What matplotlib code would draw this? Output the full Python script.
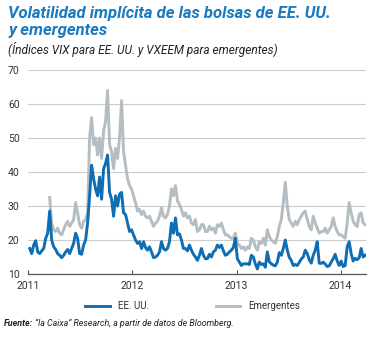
import numpy as np
import pandas as pd
import matplotlib
matplotlib.use("Agg")
import matplotlib.pyplot as plt

# weekly values (Fridays)
vix_2011 = [17.5, 16.0, 18.5, 19.8,
            16.5, 16.0, 16.8, 17.5,
            20.5, 22.0, 28.5, 20.0,
            18.0, 17.2, 16.0, 15.5, 14.8,
            15.5, 16.5, 17.2, 16.0,
            17.5, 19.0, 22.0, 20.5,
            16.0, 15.8, 18.5, 20.0, 25.0,
            33.0, 42.0, 38.0, 35.0,
            33.0, 38.5, 32.0, 41.0, 42.5,
            45.0, 34.0, 32.0, 27.0,
            33.0, 30.0, 33.5, 34.0,
            28.0, 27.5, 25.0, 22.5, 23.0]
vix_2012 = [21.5, 20.0, 19.0, 19.5,
            17.5, 19.5, 17.8, 17.0,
            18.0, 16.5, 14.8, 15.0, 15.5,
            16.5, 19.5, 17.5, 17.0,
            17.5, 19.5, 25.0, 22.0,
            26.5, 21.5, 21.8, 20.0, 17.5,
            17.5, 16.8, 18.5, 17.0,
            15.8, 15.0, 14.0, 15.5, 17.5,
            15.5, 14.5, 14.5, 15.8,
            15.0, 16.5, 17.0, 18.5,
            17.8, 18.5, 16.8, 15.5, 15.8,
            16.5, 17.0, 17.8, 20.5]
vix_2013 = [14.5, 13.5, 12.5, 13.0,
            13.0, 13.0, 12.8, 15.5,
            15.0, 13.0, 11.5, 13.5, 12.8,
            13.0, 12.0, 16.5, 13.6,
            13.0, 12.6, 12.4, 13.5, 16.3,
            15.5, 17.5, 20.0, 17.0,
            14.9, 14.0, 12.5, 12.8,
            12.5, 13.4, 14.4, 15.0, 17.0,
            16.0, 14.2, 13.2, 15.5,
            17.0, 19.5, 13.2, 13.1,
            13.5, 12.9, 12.2, 12.4, 13.5,
            14.5, 15.8, 13.8, 12.5]
vix_2014 = [13.8, 12.2, 12.5, 18.0, 19.5, 16.0, 13.8, 14.6, 14.2, 14.8, 17.5, 15.0, 15.5]

# VXEEM starts in March 2011
vxeem_2011 = [np.nan] * 10 + [32.5, 25.0,
              23.0, 22.5, 23.5, 22.0, 21.5,
              23.0, 24.5, 25.5, 24.0,
              25.0, 26.0, 31.0, 28.0,
              24.5, 23.5, 25.5, 26.0, 28.0,
              50.0, 56.0, 48.0, 50.0,
              45.0, 50.0, 44.0, 52.0, 55.0,
              64.0, 48.0, 46.0, 41.0,
              47.0, 44.0, 50.0, 61.0,
              46.0, 42.0, 38.0, 36.0, 35.0]
vxeem_2012 = [33.0, 31.0, 28.5, 29.0,
              27.5, 28.5, 27.0, 26.5,
              27.0, 25.5, 24.0, 25.0, 25.5,
              27.0, 29.5, 27.0, 26.5,
              27.5, 30.0, 35.0, 33.0,
              36.0, 31.5, 30.5, 29.0, 27.0,
              28.0, 26.5, 27.0, 25.0,
              24.5, 26.0, 22.5, 23.0, 24.5,
              24.5, 22.5, 22.5, 24.0,
              23.0, 23.5, 22.0, 24.5,
              24.0, 25.0, 23.0, 21.5, 21.5,
              21.0, 20.5, 20.5, 22.0]
vxeem_2013 = [19.0, 18.5, 17.5, 18.0,
              17.0, 18.0, 17.5, 20.5,
              20.0, 18.0, 17.0, 19.5, 19.0,
              20.5, 18.5, 23.0, 21.0,
              20.0, 19.5, 19.0, 21.0, 24.0,
              26.0, 31.0, 37.0, 30.0,
              26.0, 25.0, 24.0, 25.5,
              24.5, 26.0, 27.0, 28.0, 28.5,
              26.0, 24.0, 23.0, 27.0,
              25.0, 23.5, 22.0, 22.5,
              22.5, 23.5, 22.0, 23.0, 24.0,
              26.5, 24.0, 22.5, 21.5]
vxeem_2014 = [21.5, 21.0, 20.5, 25.0, 31.0, 28.0, 25.5, 24.5, 24.0, 27.5, 28.0, 25.0, 24.5]

vix = vix_2011 + vix_2012 + vix_2013 + vix_2014
vxeem = vxeem_2011 + vxeem_2012 + vxeem_2013 + vxeem_2014
dates = pd.date_range("2011-01-07", periods=len(vix), freq="W-FRI")

years = ["2011", "2012", "2013", "2014"]
yticks = [10, 20, 30, 40, 50, 60, 70]

BLUE = "#0f6db3"
GREY = "#b4bdc2"
TXT = "#333333"
plt.rcParams["font.family"] = ["Liberation Sans Narrow", "Roboto", "DejaVu Sans"]

fig = plt.figure(figsize=(3.88, 3.38), dpi=100)
ax = fig.add_axes([28 / 388, 1 - 274 / 338, 338 / 388, 204 / 338])

ax.plot(dates, vxeem, color=GREY, lw=2.1, label="Emergentes", zorder=2)
ax.plot(dates, vix, color=BLUE, lw=2.1, label="EE. UU.", zorder=3)

ax.set_ylim(10, 70)
ax.set_yticks(yticks)
ax.set_xlim(pd.Timestamp("2011-01-01"), pd.Timestamp("2014-03-31"))
ax.set_xticks([pd.Timestamp(y + "-01-01") for y in years])
ax.set_xticklabels(years)
ax.yaxis.grid(True, color="#cccccc", lw=0.8)
ax.set_axisbelow(True)
for s in ["left", "right", "top"]:
    ax.spines[s].set_visible(False)
ax.spines["bottom"].set_color("#555555")
ax.spines["bottom"].set_linewidth(0.9)
ax.tick_params(axis="y", length=0, labelsize=7.5, colors=TXT, pad=6)
ax.tick_params(axis="x", direction="in", length=3, color="#555555",
               labelsize=7.5, labelcolor=TXT, pad=5)

r = fig.canvas.get_renderer()


def fit(t, width_px):
    # scale a text so it spans roughly the same width as in the reference
    w = t.get_window_extent(r).width
    t.set_fontsize(t.get_fontsize() * width_px / w)


# titles
t_a = fig.text(8 / 388, 1 - 6 / 338, "Volatilidad implícita de las bolsas de EE. UU.",
               color="#1a7ac0", fontsize=11, fontweight="bold", fontstyle="italic",
               va="top", ha="left")
fit(t_a, 322)
t_b = fig.text(8 / 388, 1 - 23 / 338, "y emergentes",
               color="#1a7ac0", fontsize=t_a.get_fontsize(), fontweight="bold",
               fontstyle="italic", va="top", ha="left")
t_c = fig.text(8 / 388, 1 - 42 / 338, "(Índices VIX para EE. UU. y VXEEM para emergentes)",
               color="#222222", fontsize=8, fontstyle="italic", va="top", ha="left")
fit(t_c, 270)

# legend
handles, labels = ax.get_legend_handles_labels()
fig.legend(handles[::-1], labels[::-1], loc="center", bbox_to_anchor=(193 / 388, 1 - 306 / 338),
           ncol=2, frameon=False, fontsize=7, handlelength=2.5, columnspacing=6.8,
           handletextpad=0.9, labelcolor=TXT)

# source
t1 = fig.text(4 / 388, 1 - 323 / 338, "Fuente:", fontsize=7, fontweight="bold",
              fontstyle="italic", color="#222222", va="center", ha="left")
t2 = fig.text(40 / 388, 1 - 323 / 338,
              "\u201cla Caixa\u201d Research, a partir de datos de Bloomberg.",
              fontsize=7, fontstyle="italic", color="#222222", va="center", ha="left")
w_all = t1.get_window_extent(r).width + 2 + t2.get_window_extent(r).width
for t in (t1, t2):
    t.set_fontsize(t.get_fontsize() * 232 / w_all)
bb = t1.get_window_extent(r)
t2.set_x((bb.x1 + 2) / 388)

fig.savefig("out.png", dpi=100)
